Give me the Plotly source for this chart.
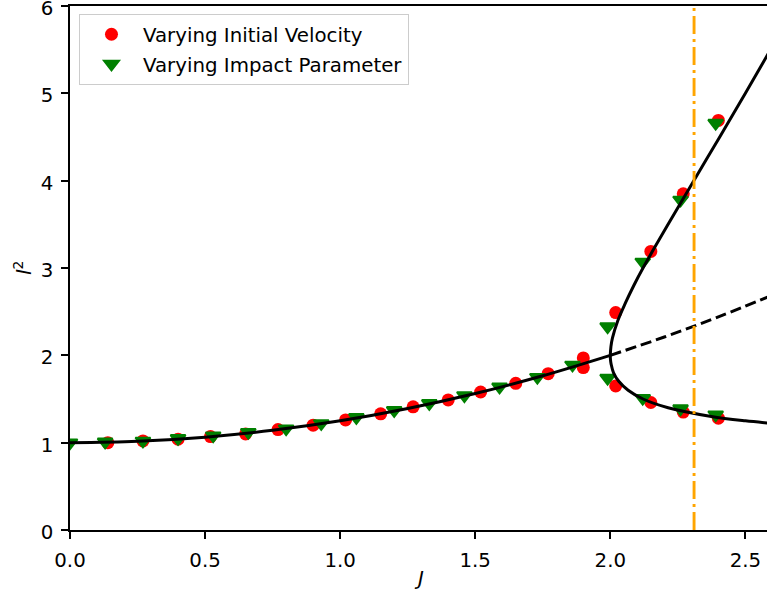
import plotly.graph_objects as go

# Measured orbits: red = varying initial velocity, green = varying impact parameter
J_velocity = [0.14, 0.27, 0.40, 0.52, 0.65, 0.77, 0.90, 1.02, 1.15, 1.27, 1.40, 1.52,
              1.65, 1.77, 1.90, 1.90, 2.02, 2.02, 2.15, 2.15, 2.27, 2.27, 2.40, 2.40]
l2_velocity = [1.00, 1.02, 1.04, 1.07, 1.10, 1.15, 1.20, 1.26, 1.33, 1.41, 1.49, 1.58,
               1.68, 1.79, 1.97, 1.86, 2.49, 1.65, 3.19, 1.46, 3.85, 1.35, 4.69, 1.28]

J_impact = [0.00, 0.13, 0.27, 0.40, 0.53, 0.66, 0.80, 0.93, 1.06, 1.20, 1.33, 1.46,
            1.59, 1.73, 1.86, 1.99, 1.99, 2.12, 2.12, 2.26, 2.26, 2.39, 2.39]
l2_impact = [1.00, 1.01, 1.02, 1.05, 1.08, 1.12, 1.16, 1.22, 1.29, 1.37, 1.45, 1.54,
             1.64, 1.75, 1.89, 2.33, 1.74, 3.07, 1.51, 3.78, 1.39, 4.66, 1.32]

# Theory: symmetric branch up to the bifurcation
J_sym = [0.0, 0.25, 0.5, 0.75, 1.0, 1.25, 1.5, 1.75, 2.0]
l2_sym = [1.0, 1.016, 1.063, 1.141, 1.25, 1.391, 1.563, 1.766, 2.0]

# Unstable continuation of the symmetric branch
J_unstable = [2.0, 2.2, 2.4, 2.6]
l2_unstable = [2.0, 2.21, 2.44, 2.69]

# Asymmetric branches beyond the bifurcation point
J_fork = [2.601, 2.5, 2.374, 2.214, 2.121, 2.066, 2.032, 2.012, 2.003, 2.0006, 2.0,
          2.0023, 2.008, 2.028, 2.056, 2.087, 2.121, 2.214, 2.309, 2.405, 2.5, 2.593]
l2_fork = [1.22, 1.25, 1.3, 1.4, 1.5, 1.6, 1.7, 1.8, 1.9, 1.95, 2.0,
           2.1, 2.2, 2.4, 2.6, 2.8, 3.0, 3.5, 4.0, 4.5, 5.0, 5.5]

J_crit = 2.31

x_ticks = [0.0, 0.5, 1.0, 1.5, 2.0, 2.5]
x_tick_labels = ["0.0", "0.5", "1.0", "1.5", "2.0", "2.5"]
y_ticks = [0, 1, 2, 3, 4, 5, 6]
y_tick_labels = ["0", "1", "2", "3", "4", "5", "6"]

FONT = "DejaVu Sans"
FS = 19.8

fig = go.Figure()

fig.add_trace(go.Scatter(
    x=J_velocity, y=l2_velocity, mode="markers", name="Varying Initial Velocity",
    legendgroup="v",
    marker=dict(symbol="circle", size=13, color="#ff0000", line=dict(width=0)),
))
fig.add_trace(go.Scatter(
    x=J_impact, y=l2_impact, mode="markers", name="Varying Impact Parameter",
    legendgroup="b",
    marker=dict(symbol="triangle-down", size=13, color="#008000",
                line=dict(width=2, color="#008000")),
))
fig.add_trace(go.Scatter(
    x=J_sym, y=l2_sym, mode="lines", showlegend=False,
    line=dict(color="black", width=3, shape="spline"),
))
fig.add_trace(go.Scatter(
    x=J_unstable, y=l2_unstable, mode="lines", showlegend=False,
    line=dict(color="black", width=3, dash="11px,5px", shape="spline"),
))
fig.add_trace(go.Scatter(
    x=J_fork, y=l2_fork, mode="lines", showlegend=False,
    line=dict(color="black", width=3, shape="spline"),
))

fig.add_vline(x=J_crit, line=dict(color="#ffa500", width=2.9, dash="18px,5px,3px,5px"),
              layer="above")

axis_common = dict(
    showgrid=False, zeroline=False, showline=True, linecolor="black", linewidth=1.6,
    ticks="outside", ticklen=7, tickwidth=1.6, tickcolor="black",
    tickfont=dict(family=FONT, size=FS, color="black"),
    ticklabeloverflow="allow", automargin=False,
)

fig.update_layout(
    width=767, height=594,
    margin=dict(l=70, r=0, t=6, b=64, autoexpand=False),
    paper_bgcolor="white", plot_bgcolor="white",
    font=dict(family=FONT, size=FS, color="black"),
    xaxis=dict(range=[0, 2.58], tickvals=x_ticks, ticktext=x_tick_labels,
               mirror=True, ticklabelstandoff=4, **axis_common),
    yaxis=dict(range=[0, 6.0001], tickvals=y_ticks, ticktext=y_tick_labels,
               ticklabelstandoff=4, ticklabelshift=2, **axis_common),
    legend=dict(
        x=0.0129, y=0.985, xanchor="left", yanchor="top",
        bgcolor="rgba(255,255,255,0.8)", bordercolor="#cccccc", borderwidth=1,
        font=dict(family=FONT, size=FS, color="black"),
        itemwidth=53, tracegroupgap=1,
    ),
    annotations=[
        dict(text="<i>J</i>", x=0.5, y=0, xref="paper", yref="paper",
             xanchor="center", yanchor="middle", yshift=-48, showarrow=False,
             font=dict(family=FONT, size=FS, color="black")),
        dict(text="<i>l</i><sup>2</sup>", x=0, y=0.5, xref="paper", yref="paper",
             xanchor="center", yanchor="middle", xshift=-47, textangle=-90,
             showarrow=False, font=dict(family=FONT, size=FS, color="black")),
    ],
)

fig.write_html("out.html")
